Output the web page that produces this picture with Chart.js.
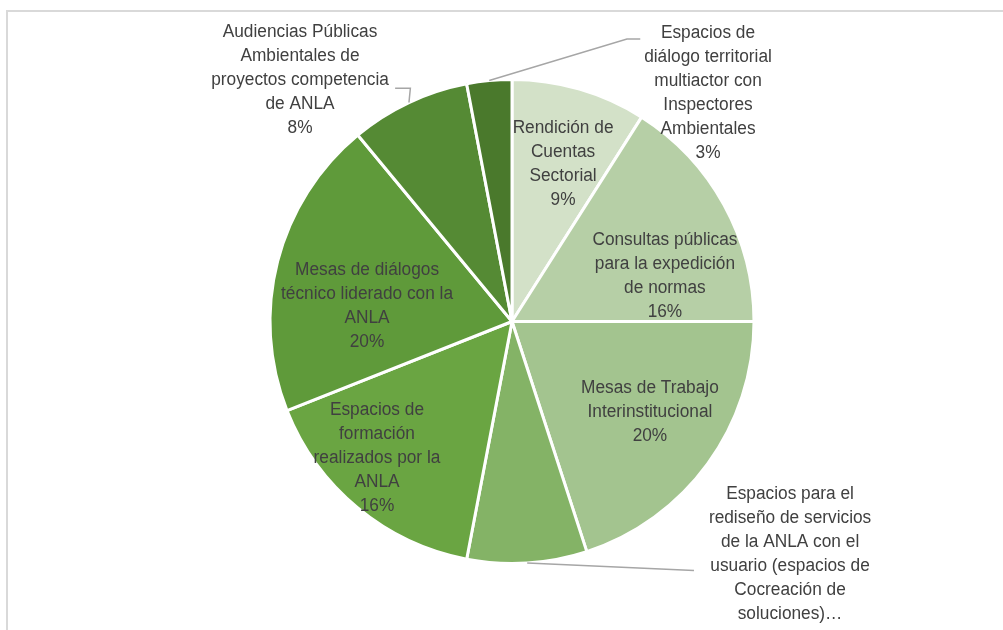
<!DOCTYPE html>
<html>
<head>
<meta charset="utf-8">
<script src="https://cdn.jsdelivr.net/npm/chart.js@4/dist/chart.umd.min.js"></script>
<style>
  body { margin: 0; background: #fff; overflow: hidden; }
  #wrap { position: relative; width: 1003px; height: 630px; }
  #frame { position: absolute; left: 6px; top: 10px; width: 1100px; height: 700px;
           border-top: 2px solid #d9d9d9; border-left: 2px solid #d9d9d9; }
  canvas { position: absolute; left: 0; top: 0; }
</style>
</head>
<body>
<div id="wrap">
  <div id="frame"></div>
  <canvas id="pie" width="1003" height="630"></canvas>
</div>
<script>
// Categorías (cada elemento es una línea del texto de la etiqueta)
const categorias = [
    ['Rendición de', 'Cuentas', 'Sectorial'],
    ['Consultas públicas', 'para la expedición', 'de normas'],
    ['Mesas de Trabajo', 'Interinstitucional'],
    ['Espacios para el', 'rediseño de servicios', 'de la ANLA con el', 'usuario (espacios de', 'Cocreación de', 'soluciones)…'],
    ['Espacios de', 'formación', 'realizados por la', 'ANLA'],
    ['Mesas de diálogos', 'técnico liderado con la', 'ANLA'],
    ['Audiencias Públicas', 'Ambientales de', 'proyectos competencia', 'de ANLA'],
    ['Espacios de', 'diálogo territorial', 'multiactor con', 'Inspectores', 'Ambientales']
];

// Porcentajes
const valores = [9, 16, 20, 8, 16, 20, 8, 3];

// La etiqueta truncada (…) no muestra el porcentaje
const mostrarPct = [true, true, true, false, true, true, true, true];

const colores = ['#d3e1c8', '#b6cfa6', '#a3c48f', '#84b366', '#6aa542', '#5f9a3a', '#558a34', '#4a792c'];

// Posición del centro de cada etiqueta, relativa al centro del pastel (en radios)
const posEtiquetas = [
    [0.211, -0.649], [0.632, -0.186], [0.570, 0.376], [1.149, 0.959],
    [-0.558, 0.566], [-0.599, -0.062], [-0.876, -0.996], [0.810, -0.946]
];

// Líneas guía: índice del sector y puntos de quiebre (en radios)
const guias = [
    { idx: 7, puntos: [[0.475, -1.167], [0.530, -1.167]] },
    { idx: 3, puntos: [[0.752, 1.029]] },
    { idx: 6, puntos: [[-0.420, -0.964], [-0.483, -0.964]] }
];

const etiquetasPlugin = {
    id: 'etiquetas',
    afterDraw(chart) {
        const ctx = chart.ctx;
        const arcs = chart.getDatasetMeta(0).data;
        const cx = arcs[0].x, cy = arcs[0].y, r = arcs[0].outerRadius;
        const total = valores.reduce((a, b) => a + b, 0);

        // Líneas guía
        ctx.save();
        ctx.strokeStyle = '#a6a6a6';
        ctx.lineWidth = 1.5;
        guias.forEach(g => {
            const a = arcs[g.idx];
            const mid = (a.startAngle + a.endAngle) / 2;
            ctx.beginPath();
            ctx.moveTo(cx + Math.cos(mid) * r, cy + Math.sin(mid) * r);
            g.puntos.forEach(p => ctx.lineTo(cx + p[0] * r, cy + p[1] * r));
            ctx.stroke();
        });
        ctx.restore();

        // Textos
        ctx.save();
        ctx.fillStyle = '#404040';
        ctx.font = '18px "Liberation Sans", Arial, sans-serif';
        ctx.textAlign = 'center';
        ctx.textBaseline = 'middle';
        const lh = 24;
        categorias.forEach((lineas, i) => {
            const todas = mostrarPct[i]
                ? lineas.concat([Math.round(valores[i] / total * 100) + '%'])
                : lineas;
            const x = cx + posEtiquetas[i][0] * r;
            const y0 = cy + posEtiquetas[i][1] * r - (todas.length - 1) * lh / 2;
            todas.forEach((t, k) => {
                ctx.save();
                ctx.translate(x, y0 + k * lh);
                ctx.scale(0.96, 1);
                ctx.fillText(t, 0, 0);
                ctx.restore();
            });
        });
        ctx.restore();
    }
};

new Chart(document.getElementById('pie').getContext('2d'), {
    type: 'pie',
    data: {
        labels: categorias.map(l => l.join(' ')),
        datasets: [{
            data: valores,
            backgroundColor: colores,
            borderColor: '#ffffff',
            borderWidth: 3
        }]
    },
    options: {
        responsive: false,
        animation: false,
        devicePixelRatio: 1,
        layout: { padding: { left: 268, right: 247, top: 78, bottom: 65 } },
        plugins: {
            legend: { display: false },
            tooltip: { enabled: false }
        }
    },
    plugins: [etiquetasPlugin]
});
</script>
</body>
</html>
